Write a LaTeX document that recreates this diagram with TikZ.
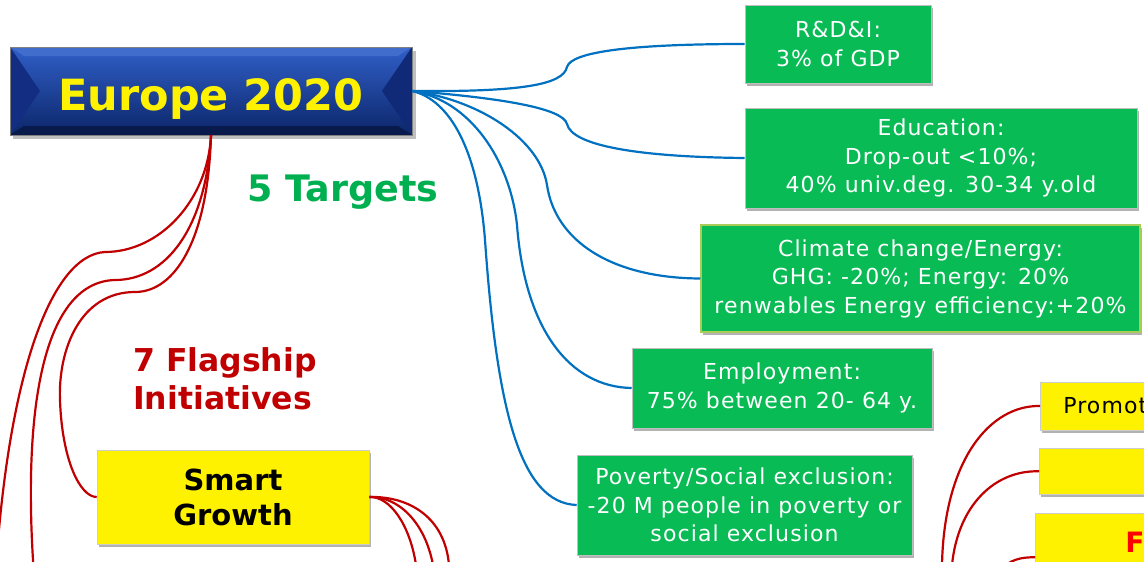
\documentclass[tikz,border=0pt]{standalone}
\usepackage{fontspec}
\setmainfont{DejaVu Sans}
\newfontfamily\gfont[LetterSpace=5]{DejaVu Sans}
\usetikzlibrary{shadows}
\definecolor{boxgreen}{RGB}{8,187,85}
\definecolor{titlegreen}{RGB}{0,176,80}
\definecolor{darkred}{RGB}{192,0,0}
\definecolor{linkblue}{RGB}{0,112,192}
\definecolor{climborder}{RGB}{170,205,90}
\definecolor{faceTop}{RGB}{48,95,200}
\definecolor{faceMid}{RGB}{40,84,185}
\definecolor{faceBot}{RGB}{12,38,105}
\definecolor{bevTop}{RGB}{65,110,205}
\definecolor{bevLeft}{RGB}{18,45,130}
\definecolor{bevRight}{RGB}{16,42,120}
\definecolor{bevBot}{RGB}{8,26,75}
\tikzset{
  shad/.style={drop shadow={shadow xshift=2pt, shadow yshift=-3pt, fill=black, opacity=0.3}},
  gbox/.style={rectangle, fill=boxgreen, draw=black!25, line width=0.6pt, text=white, align=center,
    font=\gfont\fontsize{22}{28.5}\selectfont, inner sep=0pt, shad},
  ybox/.style={rectangle, fill=yellow, draw=black!20, line width=0.6pt, inner sep=0pt, shad},
  blueline/.style={draw=linkblue, line width=2.2pt},
  redline/.style={draw=darkred, line width=2.2pt},
}
\begin{document}
\begin{tikzpicture}[x=1pt,y=-1pt]
\useasboundingbox (0,0) rectangle (1144,562);
\clip (0,0) rectangle (1144,562);

% Europe 2020 bevelled box
\fill[black,opacity=0.25] (13,51) rectangle (416,139);
\shade[top color=faceTop, middle color=faceMid, bottom color=faceBot] (10,47) rectangle (412,135);
\fill[bevTop] (10,47) -- (412,47) -- (398,56) -- (24,56) -- cycle;
\fill[bevBot] (10,135) -- (412,135) -- (398,126) -- (24,126) -- cycle;
\fill[bevLeft] (10,47) -- (40,91) -- (10,135) -- cycle;
\fill[bevRight] (412,47) -- (382,91) -- (412,135) -- cycle;
\draw[black!50, line width=0.6pt] (10,47) rectangle (412,135);
\node (eu) at (211,91) [rectangle, minimum width=402pt, minimum height=88pt, inner sep=0pt,
  text=yellow, font=\bfseries\fontsize{43}{50}\selectfont, text height=38pt, text depth=0pt] {Europe 2020};

% titles
\node (tg) at (343,192) [text=titlegreen, font=\bfseries\fontsize{36.5}{40}\selectfont] {5 Targets};
\node (fl) at (133,347) [anchor=north west, inner sep=0pt, align=left, text=darkred,
  font=\bfseries\fontsize{31.5}{38}\selectfont] {7 Flagship\\Initiatives};

% green target boxes
\node[gbox, minimum width=186pt, minimum height=78pt] (rd) at (838,44) {R\&D\&I:\\3\% of GDP};
\node[gbox, minimum width=392pt, minimum height=100pt] (edu) at (941,158) {Education:\\Drop-out <10\%;\\40\% univ.deg. 30-34 y.old};
\node[gbox, draw=climborder, line width=1.5pt, minimum width=439pt, minimum height=107pt] (cli) at (920.5,278.5) {Climate change/Energy:\\GHG: -20\%; Energy: 20\%\\renwables Energy efficiency:+20\%};
\node[gbox, minimum width=300pt, minimum height=80pt] (emp) at (782,388) {Employment:\\75\% between 20- 64 y.};
\node[gbox, minimum width=335pt, minimum height=100pt] (pov) at (744.5,505) {Poverty/Social exclusion:\\-20 M people in poverty or\\social exclusion};

% yellow flagship boxes
\node[ybox, minimum width=272pt, minimum height=94pt, align=center, font=\bfseries\fontsize{29}{35}\selectfont] (sg) at (233,497) {Smart\\Growth};
\node[ybox, anchor=west, minimum height=48pt, inner xsep=23pt, text width=120pt, align=left,
  font=\gfont\fontsize{22}{26}\selectfont] (p1) at (1040,406) {Promot};
\node[ybox, anchor=north west, minimum width=150pt, minimum height=46pt] (p2) at (1039,448) {};
\node[ybox, anchor=north west, minimum height=88pt, inner xsep=90pt, text width=40pt, align=left,
  text=red, font=\bfseries\fontsize{28}{30}\selectfont, text height=0pt, text depth=10pt] (p3) at (1035,513) {Fo};

% blue connectors (targets)
\draw[blueline] (eu.east) .. controls (520,92) and (563,85) .. (567,67) .. controls (571,52) and (630,44) .. (rd.west);
\draw[blueline] (eu.east) .. controls (500,98) and (563,108) .. (567,124) .. controls (572,146) and (640,157) .. (edu.west);
\draw[blueline] (eu.east) .. controls (480,100) and (540,140) .. (547,185) .. controls (555,240) and (610,278) .. (cli.west);
\draw[blueline] (eu.east) .. controls (470,100) and (510,160) .. (517,225) .. controls (525,330) and (570,387) .. (emp.west);
\draw[blueline] (eu.east) .. controls (450,100) and (478,150) .. (485,240) .. controls (497,410) and (520,503) .. (pov.west);

% red connectors (flagships)
\coordinate (r1) at (-6,600);
\coordinate (r2) at (36,600);
\draw[redline] (eu.south) .. controls (208,200) and (160,252) .. (105,252) .. controls (50,255) and (5,380) .. (r1);
\draw[redline] (eu.south) .. controls (206,230) and (165,280) .. (115,280) .. controls (40,282) and (20,420) .. (r2);
\draw[redline] (eu.south) .. controls (208,240) and (175,292) .. (135,292) .. controls (80,292) and (58,350) .. (60,400) .. controls (62,460) and (80,497) .. (sg.west);

\coordinate (s1) at (416,565);
\coordinate (s2) at (433,565);
\coordinate (s3) at (449,565);
\draw[redline] (sg.east) .. controls (390,496) and (410,525) .. (s1);
\draw[redline] (sg.east) .. controls (398,496) and (425,522) .. (s2);
\draw[redline] (sg.east) .. controls (410,496) and (445,518) .. (s3);

\coordinate (b1) at (942,565);
\coordinate (b2) at (952,565);
\coordinate (b3) at (1000,570);
\draw[redline] (b1) .. controls (944,460) and (990,405) .. (p1.west);
\draw[redline] (b2) .. controls (958,505) and (995,470) .. (p2.west);
\draw[redline] (b3) .. controls (1010,560) and (1020,557) .. (p3.west);
\end{tikzpicture}
\end{document}
